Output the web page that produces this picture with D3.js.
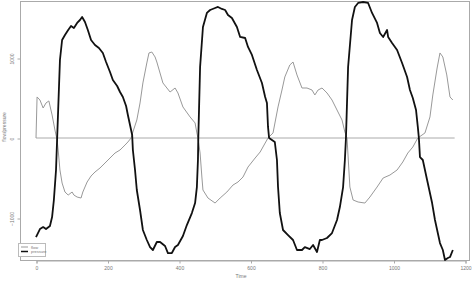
<!DOCTYPE html>
<html lang="en">
  <head>
    <meta charset="UTF-8" />
    <title>flow / pressure</title>
    <script src="https://d3js.org/d3.v7.min.js"></script>
    <style>
      body { margin: 0; background: #fff; }
      text { font-family: "Liberation Sans", Arial, sans-serif; fill: #666; }
    </style>
  </head>
  <body>
    <div id="chart"></div>
    <script>
      // pressure series (black, thick)
      const pressureTime = [0, 11, 20, 28, 39, 45, 50, 56, 59, 62, 67, 73, 81, 90, 98, 106, 115, 123, 129, 137,
        145, 154, 165, 176, 187, 196, 207, 215, 227, 235, 243, 252, 257, 263, 269, 271, 277, 282, 291, 299,
        310, 319, 327, 338, 347, 361, 369, 380, 389, 397, 411, 422, 436, 445, 450, 453, 454, 459, 467, 478,
        487, 501, 509, 520, 529, 537, 548, 562, 571, 585, 593, 604, 618, 632, 641, 646, 649, 652, 660, 668,
        674, 677, 682, 691, 705, 719, 730, 744, 752, 766, 775, 786, 794, 800, 814, 828, 842, 850, 859, 864,
        867, 873, 884, 892, 901, 915, 929, 940, 954, 962, 971, 982, 985, 996, 1010, 1024, 1038, 1046, 1054, 1063,
        1068, 1071, 1074, 1082, 1094, 1108, 1116, 1130, 1138, 1144, 1152, 1158, 1166];
      const pressure = [-1238, -1138, -1113, -1138, -1100, -988, -775, -400, -25, 350, 975, 1225, 1288, 1350, 1400, 1375, 1438, 1475, 1513, 1450,
        1350, 1225, 1163, 1125, 1063, 950, 825, 725, 650, 575, 513, 400, 288, 163, 38, -150, -400, -650, -900, -1150,
        -1275, -1363, -1400, -1300, -1300, -1350, -1438, -1438, -1363, -1338, -1225, -1088, -938, -813, -613, -275, 0, 888, 1388, 1563,
        1600, 1625, 1638, 1613, 1600, 1538, 1500, 1388, 1263, 1250, 1138, 1038, 850, 688, 513, 438, 138, 0, -25, -50,
        -275, -613, -938, -1150, -1213, -1275, -1400, -1400, -1363, -1388, -1338, -1425, -1275, -1275, -1250, -1188, -1025, -863, -613, -275,
        0, 888, 1475, 1638, 1688, 1700, 1688, 1563, 1438, 1313, 1263, 1350, 1263, 1188, 1100, 938, 763, 600, 500, 350,
        138, 0, -238, -275, -525, -813, -1025, -1313, -1400, -1525, -1500, -1488, -1400];

      // flow series (grey, thin)
      const flowTime = [0, 3, 11, 20, 28, 36, 45, 53, 59, 62, 67, 73, 81, 90, 101, 106, 115, 126, 131, 143,
        154, 165, 179, 193, 207, 221, 235, 249, 257, 266, 271, 282, 291, 299, 310, 316, 324, 333, 338, 355,
        375, 389, 397, 411, 431, 445, 450, 453, 459, 464, 467, 481, 501, 515, 534, 551, 565, 579, 593, 613,
        627, 641, 649, 663, 677, 688, 696, 710, 719, 730, 744, 758, 772, 780, 789, 800, 814, 828, 842, 856,
        864, 870, 878, 887, 901, 920, 934, 954, 971, 990, 1010, 1026, 1040, 1054, 1068, 1088, 1102, 1110, 1122, 1130,
        1138, 1149, 1158, 1166];
      const flow = [0, 513, 475, 375, 438, 463, 288, 100, -25, -150, -400, -563, -675, -713, -675, -713, -738, -750, -675, -550,
        -475, -425, -375, -313, -250, -188, -150, -88, -50, 0, 75, 225, 438, 688, 938, 1063, 1075, 1013, 950, 688,
        575, 625, 563, 388, 263, 188, 63, 0, -188, -488, -650, -750, -813, -750, -675, -588, -550, -488, -363, -250,
        -175, -63, 0, 63, 388, 600, 763, 913, 950, 788, 625, 625, 600, 538, 600, 625, 563, 475, 350, 225,
        75, 0, -613, -775, -800, -813, -738, -613, -500, -463, -400, -300, -188, -113, 0, 63, 263, 538, 875, 1063,
        1013, 788, 513, 475];

      const xTicks = [0, 200, 400, 600, 800, 1000, 1200];
      const yTicks = [-1000, 0, 1000];
      const seriesNames = ['flow', 'pressure'];

      const W = 472, H = 281;
      const box = { left: 20, right: 469, top: 1, bottom: 260 };

      const svg = d3.select('#chart')
        .append('svg')
          .attr('width', W)
          .attr('height', H);

      const x = d3.scaleLinear().domain([0, 1200]).range([36, 465]);
      const y = d3.scaleLinear().domain([-1000, 1000]).range([218, 58]);

      // plot frame
      svg.append('rect')
        .attr('x', box.left + 0.5)
        .attr('y', box.top + 0.5)
        .attr('width', box.right - box.left)
        .attr('height', box.bottom - box.top)
        .attr('fill', 'none')
        .attr('stroke', '#aaa')
        .attr('stroke-width', 1);

      // x axis
      const xAxis = svg.append('g')
        .attr('transform', `translate(0.5, ${box.bottom + 0.5})`)
        .call(d3.axisBottom(x).tickValues(xTicks).tickSize(3).tickPadding(3).tickFormat(d3.format('d')));
      xAxis.select('.domain').attr('stroke', '#aaa');
      xAxis.selectAll('.tick line').attr('stroke', '#aaa');
      xAxis.selectAll('.tick text').attr('font-size', 5).style('fill', '#777');

      // y axis
      const yAxis = svg.append('g')
        .attr('transform', `translate(${box.left + 0.5}, 0.5)`)
        .call(d3.axisLeft(y).tickValues(yTicks).tickSize(3).tickFormat(d3.format('d')));
      yAxis.select('.domain').remove();
      yAxis.selectAll('.tick line').attr('stroke', '#aaa');
      yAxis.selectAll('.tick text')
        .attr('font-size', 5)
        .style('fill', '#777')
        .attr('text-anchor', 'middle')
        .attr('x', 0)
        .attr('dy', 0)
        .attr('transform', 'translate(-7,0) rotate(-90)');

      svg.append('text')
        .attr('x', 241)
        .attr('y', 278)
        .attr('text-anchor', 'middle')
        .attr('font-size', 5)
        .style('fill', '#777')
        .text('Time');

      svg.append('text')
        .attr('transform', 'translate(6,127) rotate(-90)')
        .attr('text-anchor', 'middle')
        .attr('font-size', 5)
        .style('fill', '#777')
        .text('flow/pressure');

      const line = d3.line()
        .x(d => x(d[0]))
        .y(d => y(d[1]));

      // zero baseline across the recording
      svg.append('path')
        .attr('d', line([[0, 0], [d3.max(flowTime) + 5, 0]]))
        .attr('fill', 'none')
        .attr('stroke', '#aaa')
        .attr('stroke-width', 1);

      svg.append('path')
        .attr('d', line(d3.zip(flowTime, flow)))
        .attr('fill', 'none')
        .attr('stroke', '#999')
        .attr('stroke-width', 1)
        .attr('stroke-linejoin', 'round');

      svg.append('path')
        .attr('d', line(d3.zip(pressureTime, pressure)))
        .attr('fill', 'none')
        .attr('stroke', '#111')
        .attr('stroke-width', 1.8)
        .attr('stroke-linejoin', 'round');

      // legend, bottom left
      const legend = svg.append('g').attr('transform', 'translate(18, 243)');
      legend.append('rect')
        .attr('x', 0.5).attr('y', 0.5)
        .attr('width', 27).attr('height', 13)
        .attr('fill', '#fff')
        .attr('stroke', '#bbb');
      const items = legend.selectAll('g.item')
        .data(seriesNames)
        .enter()
        .append('g')
          .attr('transform', (d, i) => `translate(0, ${4 + i * 4.5})`);
      items.append('line')
        .attr('x1', 3).attr('x2', 10)
        .attr('y1', 0).attr('y2', 0)
        .attr('stroke', (d, i) => i === 0 ? '#999' : '#111')
        .attr('stroke-width', (d, i) => i === 0 ? 1 : 1.5);
      items.append('text')
        .attr('x', 13)
        .attr('y', 1.5)
        .attr('font-size', 4)
        .style('fill', '#777')
        .text(d => d);
    </script>
  </body>
</html>
